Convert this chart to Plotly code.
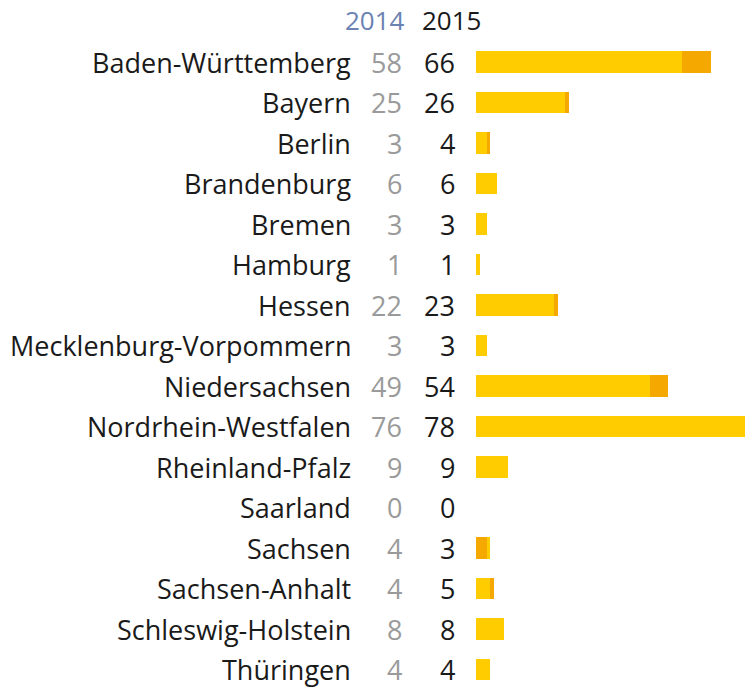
import plotly.graph_objects as go

states = ["Baden-Württemberg", "Bayern", "Berlin", "Brandenburg", "Bremen", "Hamburg",
          "Hessen", "Mecklenburg-Vorpommern", "Niedersachsen", "Nordrhein-Westfalen",
          "Rheinland-Pfalz", "Saarland", "Sachsen", "Sachsen-Anhalt", "Schleswig-Holstein",
          "Thüringen"]
v2014 = [58, 25, 3, 6, 3, 1, 22, 3, 49, 76, 9, 0, 4, 4, 8, 4]
v2015 = [66, 26, 4, 6, 3, 1, 23, 3, 54, 78, 9, 0, 3, 5, 8, 4]
headers = ["2014", "2015"]

YELLOW = "#FFCC00"
ORANGE = "#F5A800"

W = 745
ypos = list(range(len(states)))

base = [min(a, b) for a, b in zip(v2014, v2015)]
extra = [abs(b - a) for a, b in zip(v2014, v2015)]
base_col = [ORANGE if b < a else YELLOW for a, b in zip(v2014, v2015)]
extra_col = [ORANGE if b > a else YELLOW for a, b in zip(v2014, v2015)]

fig = go.Figure()
fig.add_trace(go.Bar(x=base, y=ypos, orientation="h", marker=dict(color=base_col, line=dict(width=0)),
                     width=0.54, hoverinfo="skip"))
fig.add_trace(go.Bar(x=extra, y=ypos, orientation="h", marker=dict(color=extra_col, line=dict(width=0)),
                     width=0.54, hoverinfo="skip"))


def px(p):
    return p / W


FONT = "Open Sans"
FS = 27
ann = []
for i, s in enumerate(states):
    ann.append(dict(x=px(353), y=i, xref="paper", yref="y", text=s, showarrow=False,
                    xanchor="right", yanchor="middle", font=dict(family=FONT, size=FS, color="#1a1a1a")))
    ann.append(dict(x=px(404), y=i, xref="paper", yref="y", text=str(v2014[i]), showarrow=False,
                    xanchor="right", yanchor="middle", font=dict(family=FONT, size=FS, color="#9a9a9a")))
    ann.append(dict(x=px(457), y=i, xref="paper", yref="y", text=str(v2015[i]), showarrow=False,
                    xanchor="right", yanchor="middle", font=dict(family=FONT, size=FS, color="#1a1a1a")))
ann.append(dict(x=px(407), y=-1.04, xref="paper", yref="y", text=headers[0], showarrow=False,
                xanchor="right", yanchor="middle", font=dict(family=FONT, size=26, color="#6b82b3")))
ann.append(dict(x=px(483), y=-1.04, xref="paper", yref="y", text=headers[1], showarrow=False,
                xanchor="right", yanchor="middle", font=dict(family=FONT, size=26, color="#1a1a1a")))

fig.update_layout(
    width=745, height=687, barmode="stack", showlegend=False,
    margin=dict(l=0, r=0, t=0, b=0),
    plot_bgcolor="white", paper_bgcolor="white",
    xaxis=dict(domain=[px(476), 1], range=[0, 75.6], visible=False, fixedrange=True),
    yaxis=dict(range=[15.432, -1.531], visible=False, fixedrange=True),
    annotations=ann, bargap=0,
)
fig.write_html("out.html", config={"displayModeBar": False},
               post_script="document.body.style.margin='0';document.body.style.overflow='hidden';")
